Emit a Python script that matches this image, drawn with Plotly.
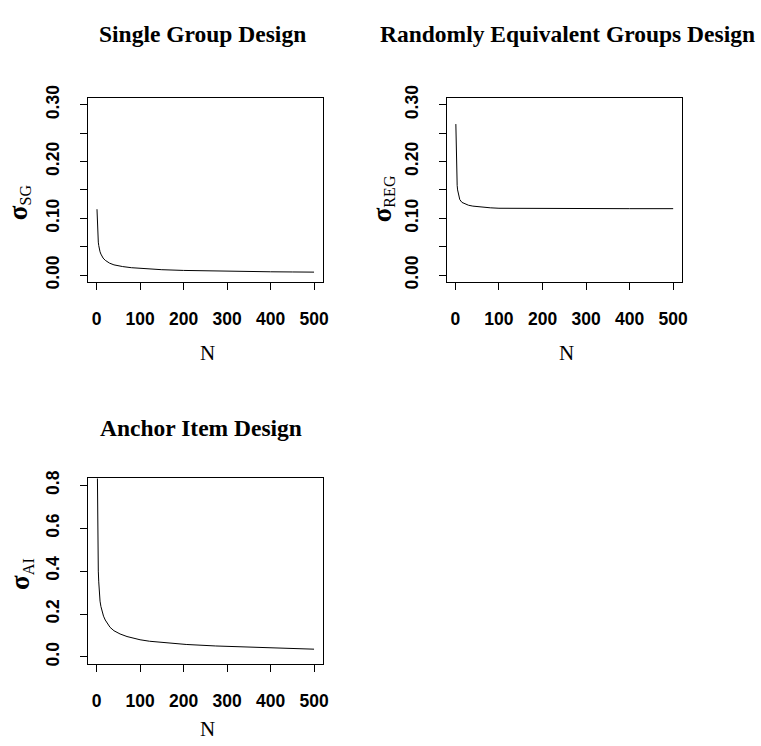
import plotly.graph_objects as go

W, H = 761, 746

# ---- data ----
n_sg = [1, 2, 3, 4, 5, 6, 8, 10, 15, 20, 25, 30, 40, 50, 60, 80, 100, 125, 150, 200, 250, 300, 350, 400, 450, 500]
sigma_sg = [0.116, 0.082, 0.067, 0.058, 0.052, 0.047, 0.041, 0.037, 0.030, 0.026, 0.023, 0.021, 0.018,
            0.016, 0.015, 0.013, 0.012, 0.0104, 0.0095, 0.0082, 0.0073, 0.0067, 0.0062, 0.0058, 0.0055, 0.0052]

n_reg = [1, 2, 3, 4, 5, 6, 8, 10, 15, 20, 25, 30, 40, 50, 60, 80, 100, 150, 200, 300, 400, 500]
sigma_reg = [0.266, 0.195, 0.172, 0.158, 0.150, 0.145, 0.138, 0.133, 0.128, 0.126, 0.124, 0.123, 0.1215,
             0.1205, 0.1195, 0.1185, 0.1177, 0.1174, 0.1172, 0.117, 0.117, 0.117]

n_ai = [1, 2, 3, 4, 5, 6, 8, 10, 12, 16, 20, 25, 31, 40, 54, 70, 84, 100, 122, 160, 206, 274, 350, 426, 500]
sigma_ai = [1.05, 0.62, 0.50, 0.40, 0.35, 0.31, 0.26, 0.235, 0.215, 0.19, 0.172, 0.155, 0.138, 0.122,
            0.107, 0.095, 0.087, 0.080, 0.073, 0.065, 0.058, 0.051, 0.045, 0.040, 0.036]

titles = ["Single Group Design", "Randomly Equivalent Groups Design", "Anchor Item Design"]
ysubs = ["SG", "REG", "AI"]
x_label = "N"
x_ticks = [0, 100, 200, 300, 400, 500]

# ---- layout helpers (pixel -> paper) ----
def px(x):
    return x / W

def py(y):
    return 1 - y / H

boxes = [  # left, right, top, bottom in pixels
    (89, 325.3, 87.3, 276.3),
    (450.7, 687.3, 87.3, 276.3),
    (89, 325.3, 478.3, 668.7),
]

fig = go.Figure()
series = [(n_sg, sigma_sg), (n_reg, sigma_reg), (n_ai, sigma_ai)]
for i, (xs, ys) in enumerate(series):
    sfx = "" if i == 0 else str(i + 1)
    fig.add_trace(go.Scatter(x=xs, y=ys, mode="lines", line=dict(color="black", width=1),
                             xaxis="x" + sfx, yaxis="y" + sfx, showlegend=False, hoverinfo="skip"))

tickfont = dict(family="Liberation Sans, Arial", size=17.5, color="black", weight="bold")

common_axis = dict(showline=True, mirror=True, linecolor="black", linewidth=1, ticks="outside",
                   ticklen=7, tickcolor="black", tickwidth=1, showgrid=False, zeroline=False,
                   tickfont=tickfont)

for i, (l, r, t, b) in enumerate(boxes):
    sfx = "" if i == 0 else str(i + 1)
    xa = dict(common_axis, domain=[px(l), px(r)], range=[-19, 520], tickvals=x_ticks,
              anchor="y" + sfx, ticklabelstandoff=14)
    if i == 2:
        ya = dict(common_axis, domain=[py(b), py(t)], range=[-0.032, 0.832], tick0=0, dtick=0.2,
                  tickformat=".1f", tickangle=-90, anchor="x" + sfx, ticklabelstandoff=14)
    else:
        ya = dict(common_axis, domain=[py(b), py(t)], range=[-0.012, 0.312], tick0=0, dtick=0.1,
                  tickformat=".2f", tickangle=-90, anchor="x" + sfx, ticklabelstandoff=14,
                  minor=dict(dtick=0.05, tick0=0, ticks="outside", ticklen=7, tickcolor="black",
                             tickwidth=1, showgrid=False))
    fig.layout["xaxis" + sfx] = xa
    fig.layout["yaxis" + sfx] = ya

title_pos = [(204.5, 21.5), (571.7, 21.5), (203, 426.7)]
n_pos = [(208.7, 349), (570.5, 349), (208.7, 736)]
ylab_pos = [(19, 194.5), (385.5, 191), (21, 576.5)]

ann = []
for i in range(3):
    ann.append(dict(text=titles[i], x=px(title_pos[i][0]), y=py(title_pos[i][1]), xref="paper", yref="paper",
                    showarrow=False, xanchor="center", yanchor="middle",
                    font=dict(family="Liberation Serif, Times New Roman, serif", size=23.5, color="black",
                              weight="bold")))
    ann.append(dict(text=x_label, x=px(n_pos[i][0]), y=py(n_pos[i][1]), xref="paper", yref="paper",
                    showarrow=False, xanchor="center", yanchor="middle",
                    font=dict(family="Liberation Serif, Times New Roman, serif", size=21, color="black")))
    ann.append(dict(text='<span style="font-size:27px"><b>σ</b></span><sub>' + ysubs[i] + '</sub>',
                    x=px(ylab_pos[i][0]), y=py(ylab_pos[i][1]), xref="paper", yref="paper",
                    showarrow=False, xanchor="center", yanchor="middle", textangle=-90,
                    font=dict(family="Liberation Serif, Times New Roman, serif", size=23, color="black")))

fig.update_layout(width=W, height=H, margin=dict(l=0, r=0, t=0, b=0), plot_bgcolor="white",
                  paper_bgcolor="white", annotations=ann)

fig.write_html("out.html", config={"displayModeBar": False},
               post_script="document.body.style.margin='0';document.body.style.overflow='hidden';")
